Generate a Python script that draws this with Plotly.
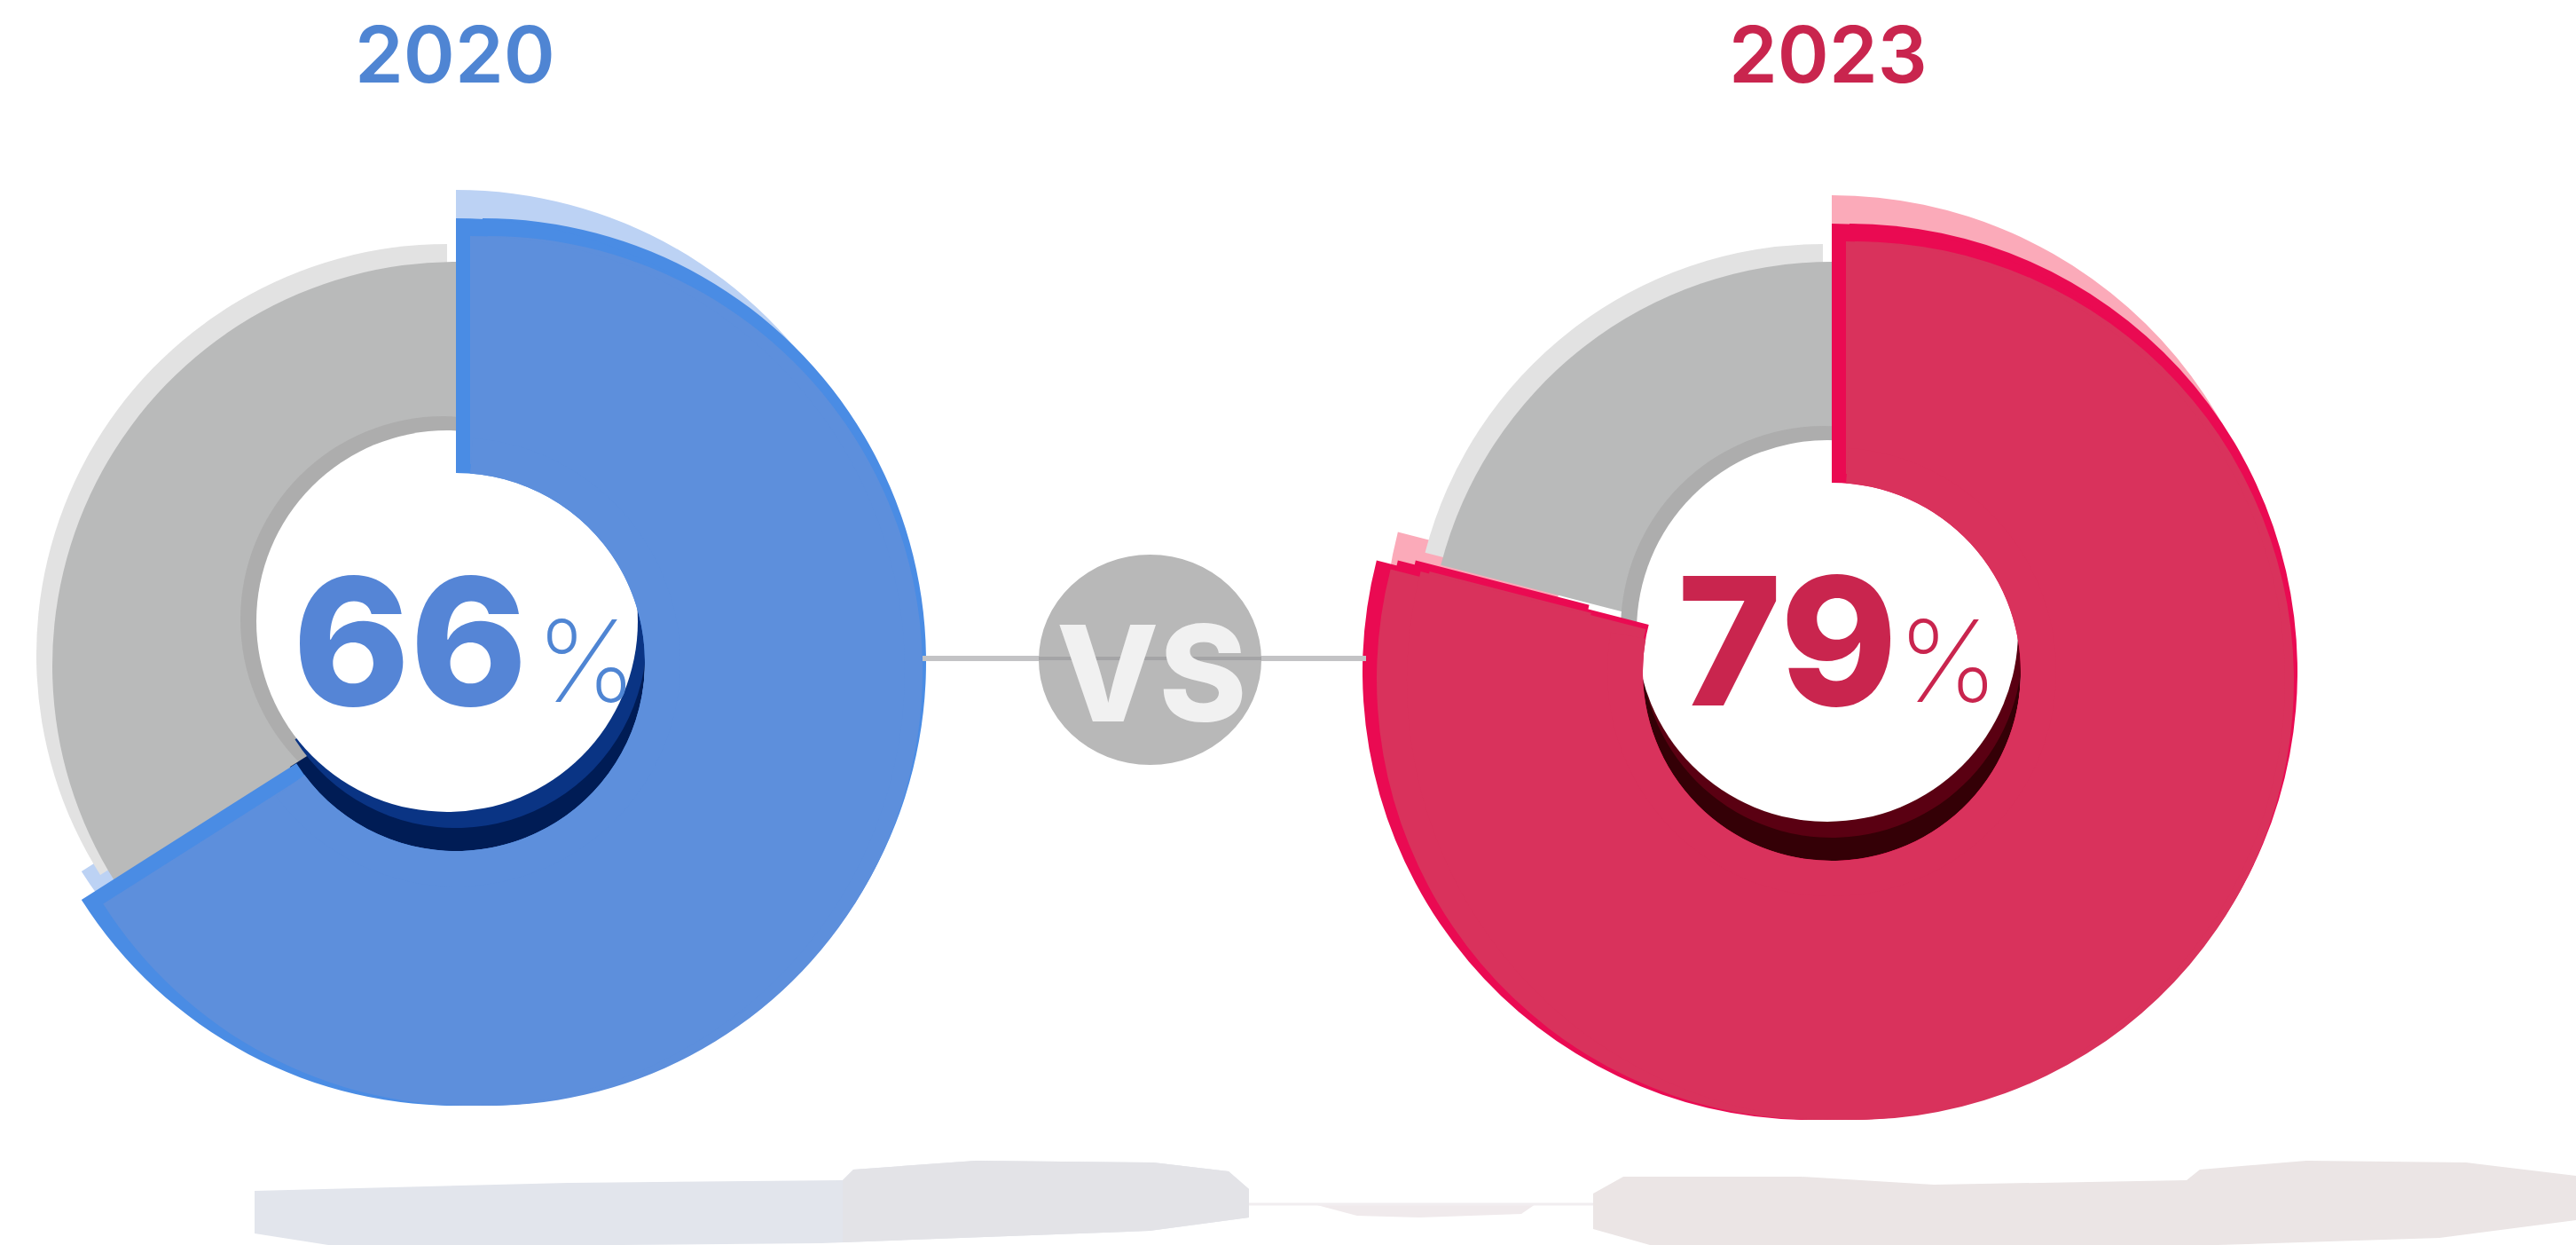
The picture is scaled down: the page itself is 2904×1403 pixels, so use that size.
import plotly.graph_objects as go

W, H = 2904, 1403

years = ["2020", "2023"]
shares = [66, 79]
rest = [34, 21]

CLEAR = "rgba(0,0,0,0)"
GREY_FACE = "#b9baba"
GREY_TOP = "#e2e2e2"
GREY_WALL = "#adadad"
RING_GAP = 1.2


def px(x):
    return x / W


def py(y):
    return 1 - y / H


fig = go.Figure()


def layer(values, colors, cx, cy, r, hole=0.0):
    fig.add_trace(go.Pie(
        values=values,
        marker=dict(colors=colors, line=dict(width=0)),
        domain=dict(x=[px(cx - r), px(cx + r)], y=[py(cy + r), py(cy - r)]),
        hole=hole, sort=False, direction="clockwise", rotation=0,
        textinfo="none", hoverinfo="skip", showlegend=False,
    ))


def donut(share, other, cx, cy, r, hr, gy, gr, wall_dy, wall_dx, right, left,
          light, bright, face, inner_dark, inner_mid):
    v = [share, other]
    # rear lip of the coloured slice sits behind the grey remainder
    layer(v, [light, CLEAR], cx, cy - 32, r, 0.62)
    # grey remainder: top lip, face, inner wall
    layer(v, [CLEAR, GREY_TOP], cx - 10, gy - 12, gr + 8)
    layer(v, [CLEAR, GREY_FACE], cx, gy, gr)
    layer([1], [GREY_WALL], cx - wall_dx - 4, cy - wall_dy - 2, hr + 16)
    # inner wall of the coloured slice, then the open centre above it
    layer(v, [inner_dark, CLEAR], cx - 4, cy + 2, hr + 4)
    layer(v, [inner_mid, CLEAR], cx, cy - 28, hr + 2)
    layer([1], ["#ffffff"], cx - wall_dx, cy - wall_dy, hr + 2)
    # coloured slice: bright rim, side widening, face
    layer(v, [bright, CLEAR], cx + right, cy, r, 0.6)
    if left:
        layer([25, share - 25, other], [CLEAR, bright, CLEAR], cx - left, cy, r, 0.6)
    layer(v, [bright, CLEAR], cx, cy, r, hr / r)
    layer(v, [face, CLEAR], cx + right + 6, cy + 10, r - 10, 0.62)
    if left:
        layer([25, share - 25, other], [CLEAR, face, CLEAR], cx - left + 8, cy + 8, r - 8, 0.62)
    layer(v, [face, CLEAR], cx + 16, cy + 10, r - 10, (hr + 20) / (r - 10))
    # face closes up against the hole, stopping short of the cut edges
    layer([RING_GAP, share - 2 * RING_GAP, RING_GAP, other], [CLEAR, face, CLEAR, CLEAR],
          cx, cy, hr + 40, hr / (hr + 40))


donut(shares[0], rest[0], 514, 746, 500, 213, 750, 455, 46, 10, 30, 0,
      "#bcd2f4", "#4a8ce4", "#5d8fdc", "#001c55", "#0a3484")
donut(shares[1], rest[1], 2065, 757, 505, 213, 750, 455, 46, 5, 20, 24,
      "#fbaab9", "#ea0a52", "#d9325c", "#340006", "#5a0012")

SHADOW_L = ("M287,1342 L640,1333 L950,1330 L962,1318 L1100,1308 L1300,1310 "
            "L1385,1320 L1408,1340 L1408,1372 L1296,1387 L926,1401 L700,1403 L370,1403 L287,1390 Z")
SHADOW_L2 = ("M950,1330 L962,1318 L1100,1308 L1300,1310 L1385,1320 L1408,1340 "
             "L1408,1372 L1296,1387 L950,1400 Z")
SHADOW_R = ("M1796,1345 L1830,1326 L2030,1326 L2180,1335 L2465,1330 L2480,1318 "
            "L2600,1308 L2780,1310 L2904,1325 L2904,1375 L2750,1395 L2500,1403 L1860,1403 L1796,1385 Z")
SHADOW_M = "M1481,1357 L1731,1357 L1715,1368 L1600,1372 L1530,1370 Z"


def paper_path(d):
    out = []
    for tok in d.split():
        if tok == "Z":
            out.append("Z")
            continue
        x, y = tok[1:].split(",")
        out.append(f"{tok[0]}{float(x) / W:.5f},{py(float(y)):.5f}")
    return " ".join(out)


shapes = [
    dict(type="path", path=paper_path(SHADOW_L), fillcolor="#e2e5ec", line=dict(width=0)),
    dict(type="path", path=paper_path(SHADOW_L2), fillcolor="#e3e3e7", line=dict(width=0)),
    dict(type="path", path=paper_path(SHADOW_R), fillcolor="#ebe5e5", line=dict(width=0)),
    dict(type="path", path=paper_path(SHADOW_M), fillcolor="#f0eaec", line=dict(width=0)),
    dict(type="line", x0=px(1408), x1=px(1796), y0=py(1357), y1=py(1357),
         line=dict(color="#f1edf0", width=3)),
    dict(type="line", x0=px(1040), x1=px(1540), y0=py(742), y1=py(742),
         line=dict(color="#c3c3c5", width=6)),
    dict(type="circle", x0=px(1171), x1=px(1422), y0=py(862), y1=py(625),
         fillcolor="#b8b8b8", line=dict(width=0)),
    dict(type="line", x0=px(1171), x1=px(1422), y0=py(742), y1=py(742),
         line=dict(color="#a4a4a6", width=4)),
]
for s in shapes:
    s.update(xref="paper", yref="paper")

BLUE_TEXT = "#4f85d3"
RED_TEXT = "#c9254e"


def label(text, x, y, size, color, family="Inter", weight=400):
    return dict(text=text, x=px(x), y=py(y), xref="paper", yref="paper",
                xanchor="center", yanchor="middle", showarrow=False,
                font=dict(family=family, size=size, color=color, weight=weight))


annotations = [
    label(years[0], 513, 61, 88, BLUE_TEXT, weight=600),
    label(years[1], 2061, 61, 88, RED_TEXT, weight=600),
    label(str(shares[0]), 463, 722, 200, "#5585d6", weight=800),
    label("%", 661, 744, 128, "#4f85d3", weight=200),
    label(str(shares[1]), 2015, 722, 200, RED_TEXT, weight=800),
    label("%", 2196, 744, 128, RED_TEXT, weight=200),
    label("VS", 1298, 758, 150, "#f1f1f1", weight=800),
]

fig.update_layout(
    width=W, height=H, margin=dict(l=0, r=0, t=0, b=0),
    paper_bgcolor="#ffffff", plot_bgcolor="#ffffff",
    shapes=shapes, annotations=annotations, showlegend=False,
)
fig.write_html("out.html", config=dict(displayModeBar=False),
               post_script="document.body.style.margin='0';document.documentElement.style.overflow='hidden';")
